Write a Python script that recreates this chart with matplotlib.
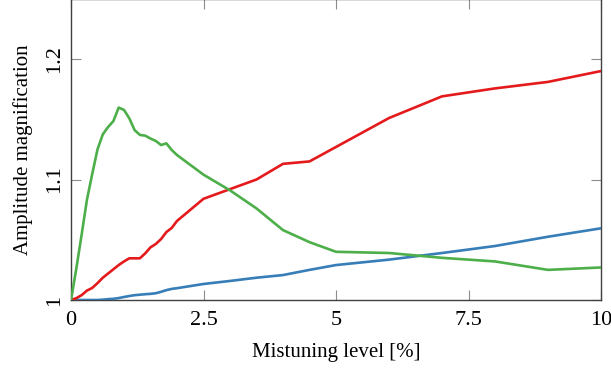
import numpy as np
import matplotlib
matplotlib.use('Agg')
import matplotlib.pyplot as plt

plt.rcParams['font.family'] = ['Liberation Serif', 'DejaVu Serif']
plt.rcParams['mathtext.fontset'] = 'stix'

# mistuning levels [%]
x = [0, 0.1, 0.2, 0.3, 0.4, 0.5, 0.6, 0.7, 0.8, 0.9, 1.0,
     1.1, 1.2, 1.3, 1.4, 1.5, 1.6, 1.7, 1.8, 1.9, 2.0,
     2.5, 3, 3.5, 4, 4.5, 5, 6, 7, 8, 9, 10]

# amplitude magnification for the three cases
blue = [1.0, 1.0, 1.0, 1.0, 1.0, 1.0, 1.0003, 1.0007, 1.001, 1.0016, 1.0025,
        1.0033, 1.004, 1.0044, 1.0048, 1.0051, 1.0056, 1.0068, 1.0082, 1.0092, 1.0098,
        1.0133, 1.0158, 1.0185, 1.0207, 1.025, 1.029, 1.0335, 1.039, 1.0448, 1.0525, 1.0595]
red = [1.0, 1.0015, 1.004, 1.0078, 1.010, 1.014, 1.0185, 1.022, 1.0255, 1.029, 1.032,
       1.0346, 1.0346, 1.0346, 1.0387, 1.0437, 1.0465, 1.0506, 1.0564, 1.0598, 1.0656,
       1.084, 1.092, 1.100, 1.113, 1.115, 1.127, 1.151, 1.169, 1.1756, 1.181, 1.190]
green = [1.0, 1.026, 1.054, 1.083, 1.1045, 1.125, 1.1375, 1.1436, 1.1485, 1.1597, 1.1577,
         1.1508, 1.141, 1.137, 1.1364, 1.134, 1.132, 1.1286, 1.130, 1.1245, 1.1203,
         1.104, 1.091, 1.076, 1.058, 1.048, 1.040, 1.039, 1.035, 1.032, 1.025, 1.027]

xticks = [0, 2.5, 5, 7.5, 10]
xticklabels = ['0', '2.5', '5', '7.5', '10']
yticks = [1.0, 1.1, 1.2]
yticklabels = ['1', '1.1', '1.2']

fig = plt.figure(figsize=(6.11, 3.70), dpi=100)
ax = fig.add_axes([71 / 611, 70 / 370, 530 / 611, 301 / 370])

ax.plot(x, blue, color='#377eb8', lw=1.9, zorder=3)
ax.plot(x, red, color='#e41a1c', lw=1.9, zorder=3)
ax.plot(x, green, color='#4daf4a', lw=1.9, zorder=3)

ax.set_xlim(0, 10)
ax.set_ylim(1.0, 1.2498)

ax.set_xticks(xticks)
ax.set_xticklabels(xticklabels)
ax.set_yticks(yticks)
ax.set_yticklabels(yticklabels, rotation=90, va='center')

ax.tick_params(direction='in', length=7, width=0.8, color='0.55',
               top=True, right=True, labelsize=16, pad=8)
ax.tick_params(axis='y', pad=5)
for s in ax.spines.values():
    s.set_color('0.25')
    s.set_linewidth(1.0)

ax.set_xlabel('Mistuning level [%]', fontsize=15, labelpad=9)
ax.set_ylabel('Amplitude magnification', fontsize=15, labelpad=9)

fig.savefig('out.png', dpi=100)
